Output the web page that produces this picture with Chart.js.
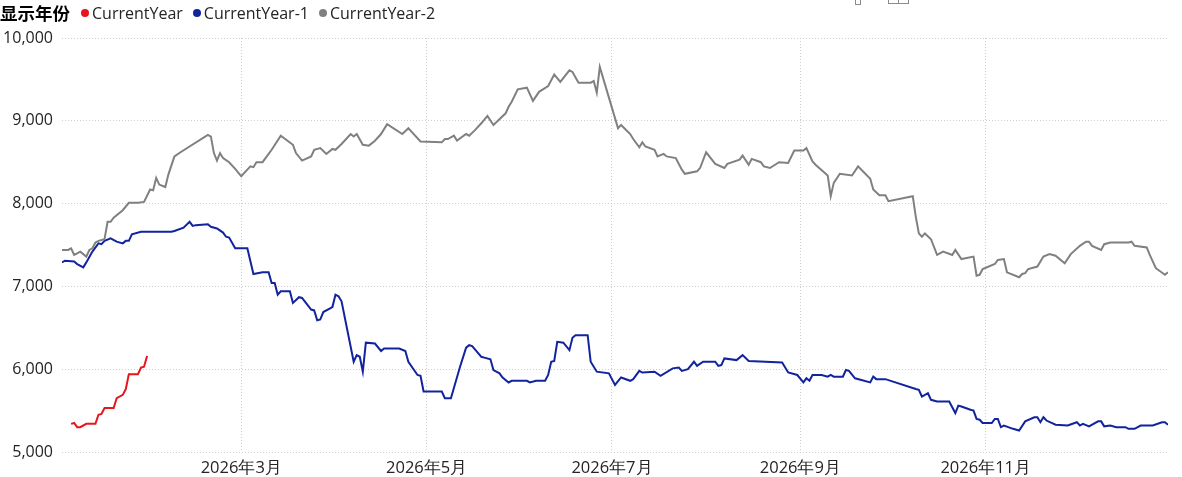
<!DOCTYPE html>
<html>
<head>
<meta charset="utf-8">
<script src="https://cdn.jsdelivr.net/npm/chart.js@4.4.1/dist/chart.umd.min.js"></script>
<style>
  html, body { margin: 0; padding: 0; background: #ffffff; }
  #wrap { position: relative; width: 1182px; height: 477px; overflow: hidden; }
  #c { position: absolute; left: 0; top: 0; }
  #legend { position: absolute; left: 0; top: 0; height: 25px; display: flex; align-items: center; white-space: nowrap; color: #252423; }
  #legend .title { font: bold 17.5px "Noto Sans CJK SC", sans-serif; margin-right: 11px; color: #000; }
  #legend .dot { width: 8px; height: 8px; border-radius: 50%; display: inline-block; margin-right: 3px; }
  #legend .lab { font: 16px "Open Sans", sans-serif; margin-right: 10px; }
  .icon { position: absolute; border: 1px solid #8a8a8a; background: #fff; }
</style>
</head>
<body>
<div id="wrap">
  <canvas id="c" width="1182" height="477"></canvas>
  <div id="legend"></div>
  <div class="icon" style="left:855px;top:-6px;width:4px;height:9px;"></div>
  <div class="icon" style="left:888px;top:-6px;width:9px;height:8px;"></div>
  <div class="icon" style="left:898px;top:-6px;width:9px;height:8px;"></div>
</div>
<script>
const YEAR = 2026;
const legendTitle = "显示年份";
const seriesNames = ["CurrentYear", "CurrentYear-1", "CurrentYear-2"];
const seriesColors = ["#e8141e", "#12239e", "#808080"];

const xTickDates = ["03-01", "05-01", "07-01", "09-01", "11-01"];
const xTickLabels = ["2026年3月", "2026年5月", "2026年7月", "2026年9月", "2026年11月"];
const yTicks = [5000, 6000, 7000, 8000, 9000, 10000];

// CurrentYear
const cyDates = ["01-04","01-05","01-06","01-07","01-09","01-12","01-13","01-14","01-15","01-18","01-19","01-21","01-22","01-23","01-26","01-27","01-28","01-29"];
const cyValues = [5340,5350,5300,5300,5340,5340,5450,5460,5530,5530,5650,5690,5760,5940,5940,6020,6030,6160];

// CurrentYear-1
const cy1Dates = ["01-01","01-02","01-05","01-06","01-08","01-09","01-11","01-13","01-14","01-15","01-17","01-19","01-21","01-22","01-23","01-24","01-27",
"02-06","02-07","02-10","02-12","02-13","02-14","02-18","02-19","02-21","02-23","02-24","02-25","02-27",
"03-03","03-05","03-08","03-10","03-11","03-12","03-13","03-14","03-17","03-18","03-20","03-21","03-24","03-25","03-26","03-27","03-28","03-31",
"04-01","04-02","04-03","04-07","04-08","04-09","04-10","04-11","04-14","04-16","04-17","04-22","04-24","04-25","04-28","04-29","04-30",
"05-06","05-07","05-09","05-12","05-14","05-15","05-16","05-19","05-20","05-22","05-23","05-25","05-26","05-28","05-29",
"06-03","06-04","06-06","06-09","06-10","06-11","06-12","06-13","06-15","06-17","06-18","06-19","06-23","06-24","06-26","06-30",
"07-02","07-04","07-07","07-08","07-10","07-11","07-15","07-17","07-21","07-23","07-24","07-26","07-28","07-29","07-31",
"08-04","08-05","08-06","08-07","08-11","08-13","08-15","08-26","08-28","08-31",
"09-02","09-03","09-04","09-05","09-08","09-10","09-11","09-12","09-15","09-16","09-17","09-19","09-24","09-25","09-26","09-29",
"10-09","10-10","10-11","10-13","10-14","10-16","10-20","10-22","10-23","10-24","10-27","10-28","10-29","10-30","10-31",
"11-03","11-04","11-05","11-06","11-07","11-10","11-12","11-14","11-17","11-18","11-19","11-20","11-21","11-24","11-28",
"12-01","12-02","12-03","12-05","12-08","12-09","12-10","12-12","12-14","12-17","12-18","12-20","12-22","12-26","12-29","12-30","12-31"];
const cy1Values = [7290,7310,7300,7270,7230,7290,7420,7520,7510,7550,7580,7540,7520,7550,7550,7630,7660,
7660,7670,7710,7780,7730,7740,7750,7720,7700,7650,7600,7590,7460,
7460,7150,7170,7170,7040,7040,6900,6940,6940,6800,6870,6860,6720,6710,6590,6600,6690,6750,
6900,6880,6820,6090,6170,6150,5970,6320,6310,6220,6250,6250,6220,6090,5930,5920,5730,
5730,5650,5650,6030,6260,6290,6280,6150,6140,6120,5990,5950,5900,5840,5860,
5860,5840,5860,5860,5930,6090,6100,6330,6320,6230,6380,6410,6410,6090,5970,5950,
5810,5900,5860,5880,5980,5960,5970,5920,6010,6020,5980,6000,6090,6040,6090,
6090,6040,6050,6130,6110,6170,6100,6080,5960,5930,
5840,5890,5860,5930,5930,5910,5930,5910,5910,5990,5980,5890,5840,5910,5880,5880,
5760,5750,5670,5710,5630,5610,5610,5470,5560,5550,5510,5500,5400,5390,5350,
5350,5400,5400,5300,5320,5280,5260,5370,5420,5420,5360,5420,5380,5330,5320,
5360,5320,5340,5310,5370,5370,5310,5320,5300,5300,5280,5280,5320,5320,5360,5360,5330];

// CurrentYear-2
const cy2Dates = ["01-01","01-03","01-04","01-05","01-06","01-07","01-09","01-10","01-11","01-12","01-13","01-15","01-16","01-17","01-18","01-21","01-23","01-26","01-28","01-30","01-31",
"02-01","02-02","02-04","02-05","02-07","02-09","02-18","02-19","02-20","02-21","02-22","02-23","02-25","02-27",
"03-01","03-03","03-04","03-05","03-06","03-08","03-11","03-14","03-18","03-19","03-21","03-24","03-25","03-27","03-29","03-31",
"04-01","04-03","04-06","04-07","04-08","04-10","04-12","04-14","04-16","04-18","04-23","04-25","04-26","04-29",
"05-06","05-07","05-08","05-10","05-11","05-14","05-15","05-17","05-19","05-21","05-23","05-27","05-28","05-29","05-31",
"06-03","06-05","06-07","06-10","06-12","06-14","06-17","06-18","06-20","06-24","06-25","06-26","06-27","06-30",
"07-03","07-04","07-07","07-08","07-10","07-11","07-12","07-15","07-16","07-18","07-19","07-22","07-24","07-25","07-29","07-30",
"08-01","08-04","08-07","08-08","08-12","08-13","08-15","08-16","08-19","08-20","08-22","08-25","08-28","08-30",
"09-02","09-03","09-05","09-06","09-10","09-11","09-12","09-14","09-18","09-20","09-24","09-25","09-27","09-29","09-30",
"10-08","10-09","10-10","10-11","10-12","10-14","10-16","10-18","10-21","10-22","10-24","10-28","10-29","10-30","10-31",
"11-04","11-05","11-07","11-08","11-12","11-13","11-14","11-15","11-18","11-20","11-22","11-24","11-27","11-29",
"12-02","12-04","12-05","12-06","12-09","12-10","12-12","12-18","12-19","12-20","12-24","12-25","12-27","12-30","12-31"];
const cy2Values = [7440,7440,7460,7380,7400,7420,7360,7440,7460,7530,7550,7570,7780,7780,7830,7920,8010,8010,8020,8170,8160,
8310,8230,8200,8350,8570,8620,8830,8810,8610,8520,8610,8550,8500,8420,
8330,8410,8450,8440,8500,8500,8650,8820,8710,8610,8520,8570,8650,8670,8600,8660,
8650,8720,8840,8810,8840,8710,8700,8760,8840,8960,8840,8910,8870,8750,
8740,8780,8780,8820,8760,8840,8820,8890,8970,9060,8950,9090,9170,9230,9380,
9400,9240,9350,9420,9560,9470,9610,9590,9460,9460,9480,9340,9650,9280,
8910,8950,8840,8780,8680,8740,8690,8650,8570,8600,8570,8550,8410,8360,8390,8430,
8620,8480,8430,8480,8530,8580,8470,8540,8500,8450,8430,8500,8490,8640,
8640,8670,8510,8470,8340,8090,8250,8360,8340,8450,8300,8170,8100,8100,8030,
8090,7840,7640,7600,7640,7570,7380,7420,7380,7440,7330,7360,7130,7140,7210,
7270,7320,7330,7170,7110,7150,7160,7210,7240,7360,7390,7370,7280,7390,
7490,7540,7540,7490,7440,7510,7530,7530,7540,7490,7470,7380,7220,7140,7170];

function dayOfYear(md) {
  const [m, d] = md.split("-").map(Number);
  return (Date.UTC(YEAR, m - 1, d) - Date.UTC(YEAR, 0, 1)) / 86400000;
}
function toPoints(dates, values) {
  return dates.map((d, i) => ({ x: dayOfYear(d), y: values[i] }));
}

const seriesData = [
  toPoints(cyDates, cyValues),
  toPoints(cy1Dates, cy1Values),
  toPoints(cy2Dates, cy2Values)
];
const xTickValues = xTickDates.map(dayOfYear);
const lastDay = dayOfYear("12-31");

// HTML legend
const legendEl = document.getElementById("legend");
const t = document.createElement("span");
t.className = "title"; t.textContent = legendTitle;
legendEl.appendChild(t);
seriesNames.forEach((n, i) => {
  const dot = document.createElement("span");
  dot.className = "dot"; dot.style.background = seriesColors[i];
  const lab = document.createElement("span");
  lab.className = "lab"; lab.textContent = n;
  legendEl.appendChild(dot); legendEl.appendChild(lab);
});

const gridColor = "#cfcfcf";
const yFont = { family: "'Open Sans', sans-serif", size: 16 };
const xFont = { family: "'Open Sans', sans-serif", size: 16.5 };

new Chart(document.getElementById("c"), {
  type: "line",
  data: {
    datasets: seriesNames.map((n, i) => ({
      label: n,
      data: seriesData[i],
      borderColor: seriesColors[i],
      backgroundColor: seriesColors[i],
      borderWidth: 2,
      pointRadius: 0,
      tension: 0,
      fill: false
    })).reverse()
  },
  options: {
    responsive: false,
    animation: false,
    events: [],
    layout: { padding: { top: 38, right: 14, left: 0, bottom: 0 } },
    plugins: { legend: { display: false }, tooltip: { enabled: false } },
    scales: {
      x: {
        type: "linear",
        min: 0,
        max: lastDay,
        afterBuildTicks: s => { s.ticks = xTickValues.map(v => ({ value: v })); },
        afterFit: s => { s.height = 25; },
        ticks: {
          autoSkip: false,
          maxRotation: 0,
          padding: 6,
          color: "#252423",
          font: xFont,
          callback: (v) => { const k = xTickValues.indexOf(v); return k >= 0 ? xTickLabels[k] : ""; }
        },
        grid: { color: gridColor, drawTicks: false, lineWidth: 1 },
        border: { display: false, dash: [1, 2] }
      },
      y: {
        min: yTicks[0],
        max: yTicks[yTicks.length - 1],
        afterBuildTicks: s => { s.ticks = yTicks.map(v => ({ value: v })); },
        afterFit: s => { s.width = 62; },
        ticks: {
          padding: 9,
          color: "#252423",
          font: yFont,
          callback: v => v.toLocaleString("en-US")
        },
        grid: { color: gridColor, drawTicks: false, lineWidth: 1 },
        border: { display: false, dash: [1, 2] }
      }
    }
  }
});
</script>
</body>
</html>
